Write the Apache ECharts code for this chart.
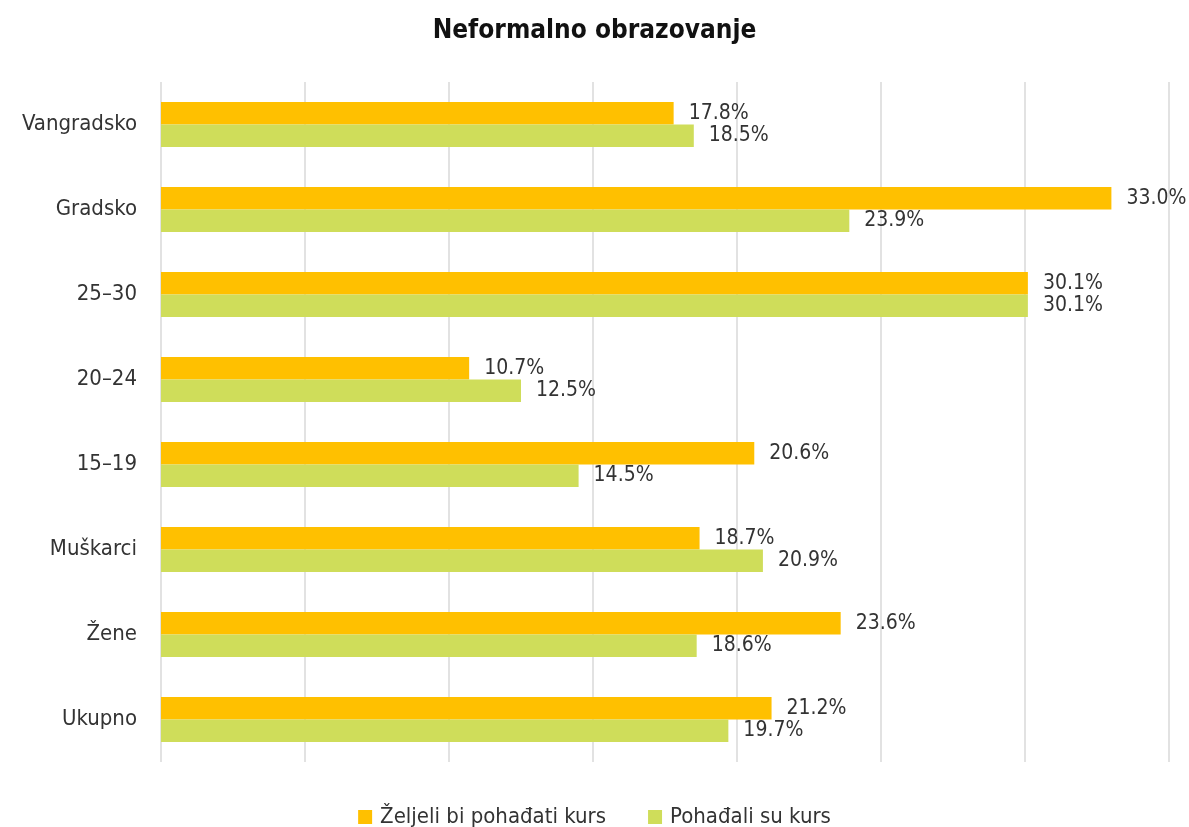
<!DOCTYPE html>
<html>
<head>
<meta charset="utf-8">
<script src="https://cdn.jsdelivr.net/npm/echarts@6/dist/echarts.min.js"></script>
<style>
  html, body { margin: 0; padding: 0; background: #fff; }
  #chart { width: 1189px; height: 827px; }
</style>
</head>
<body>
<div id="chart"></div>
<script>
// kategorije odozdo prema gore
const categories = ['Ukupno', 'Žene', 'Muškarci', '15–19', '20–24', '25–30', 'Gradsko', 'Vangradsko'];
const zeljeli = [21.2, 23.6, 18.7, 20.6, 10.7, 30.1, 33.0, 17.8];
const pohadjali = [19.7, 18.6, 20.9, 14.5, 12.5, 30.1, 23.9, 18.5];
const seriesNames = ['Željeli bi pohađati kurs', 'Pohađali su kurs'];

const font = '"Liberation Sans Narrow", "DejaVu Sans Condensed", "Roboto", sans-serif';

let myChart = echarts.init(document.getElementById('chart'));

const label = {
  show: true,
  position: 'right',
  distance: 15,
  color: '#333',
  fontFamily: font,
  fontSize: 21,
  formatter: p => p.value.toFixed(1) + '%'
};

myChart.setOption({
  animation: false,
  title: {
    text: 'Neformalno obrazovanje',
    left: 'center',
    top: 13,
    textStyle: { fontFamily: font, fontWeight: 'bold', fontSize: 26, color: '#111' }
  },
  legend: {
    data: seriesNames,
    top: 801,
    left: 'center',
    itemWidth: 14,
    itemHeight: 14,
    itemGap: 42,
    icon: 'rect',
    textStyle: { fontFamily: font, fontSize: 22, color: '#333', padding: [0, 0, 0, 3] }
  },
  grid: { left: 161, right: 20, top: 82, bottom: 65, containLabel: false },
  xAxis: {
    type: 'value',
    min: 0,
    max: 35,
    interval: 5,
    axisLabel: { show: false },
    axisLine: { show: false },
    axisTick: { show: false },
    splitLine: { lineStyle: { color: '#d9d9d9', width: 1.5 } }
  },
  yAxis: {
    type: 'category',
    data: categories,
    axisLine: { show: false },
    axisTick: { show: false },
    axisLabel: { margin: 24, color: '#333', fontFamily: font, fontSize: 22 }
  },
  series: [
    {
      name: seriesNames[0],
      type: 'bar',
      data: zeljeli,
      itemStyle: { color: '#FFC000' },
      barGap: '0%',
      barCategoryGap: '47%',
      label: label
    },
    {
      name: seriesNames[1],
      type: 'bar',
      data: pohadjali,
      itemStyle: { color: '#CFDD5A' },
      barGap: '0%',
      barCategoryGap: '47%',
      label: label
    }
  ]
});
</script>
</body>
</html>
